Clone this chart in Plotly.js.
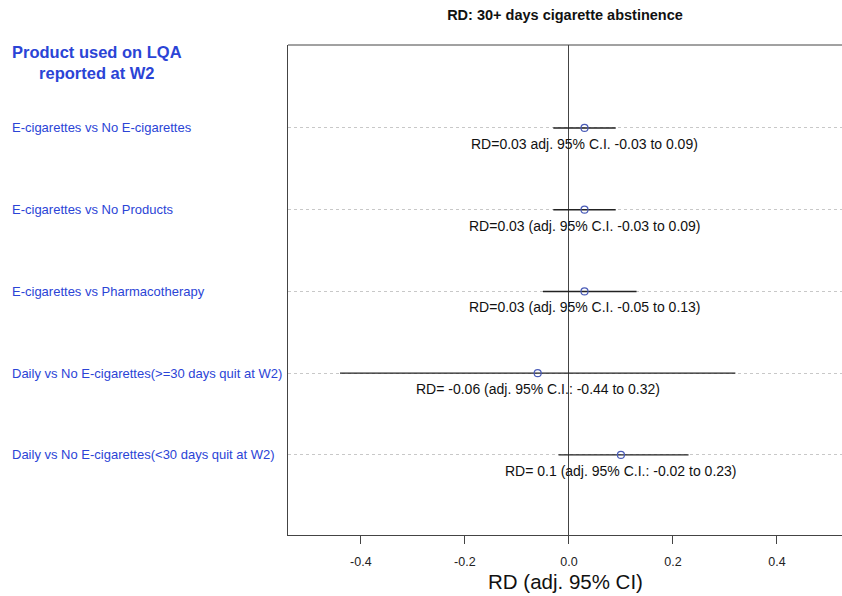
<!DOCTYPE html>
<html>
<head>
<meta charset="utf-8">
<script src="https://cdn.plot.ly/plotly-3.0.1.min.js"></script>
<style>html,body{margin:0;padding:0;background:#fff;overflow:hidden}#chart{width:842px;height:596px}</style>
</head>
<body>
<div id="chart"></div>
<script>
// Data
var labels = [
  "E-cigarettes vs No E-cigarettes",
  "E-cigarettes vs No Products",
  "E-cigarettes vs Pharmacotherapy",
  "Daily vs No E-cigarettes(>=30 days quit at W2)",
  "Daily vs No E-cigarettes(<30 days quit at W2)"
];
var rowPos = [5, 4, 3, 2, 1];
var estimates = [0.03, 0.03, 0.03, -0.06, 0.1];
var lowerCI = [-0.03, -0.03, -0.05, -0.44, -0.02];
var upperCI = [0.09, 0.09, 0.13, 0.32, 0.23];
var valueTexts = [
  "RD=0.03 adj. 95% C.I. -0.03 to 0.09)",
  "RD=0.03 (adj. 95% C.I. -0.03 to 0.09)",
  "RD=0.03 (adj. 95% C.I. -0.05 to 0.13)",
  "RD= -0.06 (adj. 95% C.I.: -0.44 to 0.32)",
  "RD= 0.1 (adj. 95% C.I.: -0.02 to 0.23)"
];
var xTicks = [-0.4, -0.2, 0.0, 0.2, 0.4];
var xTickText = ["-0.4", "-0.2", "0.0", "0.2", "0.4"];

var FONT = "Liberation Sans, Arial, Helvetica, sans-serif";
var BLUE = "#2b44d6";

var plus = estimates.map(function(e, i){ return upperCI[i] - e; });
var minus = estimates.map(function(e, i){ return e - lowerCI[i]; });

var trace = {
  type: "scatter",
  mode: "markers",
  x: estimates,
  y: rowPos,
  marker: {symbol: "circle-open", size: 7, color: "#4a5cb8", line: {width: 1.2, color: "#4a5cb8"}},
  error_x: {type: "data", symmetric: false, array: plus, arrayminus: minus, width: 0, thickness: 1.4, color: "#222"},
  hoverinfo: "none",
  showlegend: false
};

var annotations = [];
labels.forEach(function(l, i){
  annotations.push({
    text: l, xref: "paper", yref: "y", x: -0.502, y: rowPos[i],
    xanchor: "left", yanchor: "middle", showarrow: false,
    font: {family: FONT, size: 13, color: BLUE}
  });
  annotations.push({
    text: valueTexts[i], xref: "x", yref: "y", x: estimates[i], y: rowPos[i],
    xanchor: "center", yanchor: "middle", yshift: -16, showarrow: false,
    font: {family: FONT, size: 14, color: "#111"}
  });
});
annotations.push({
  text: "<b>Product used on LQA<br>reported at W2</b>", xref: "paper", yref: "paper",
  x: -0.345, y: 0.965, xanchor: "center", yanchor: "middle", showarrow: false,
  font: {family: FONT, size: 16.5, color: BLUE}, align: "center"
});
annotations.push({
  text: "RD (adj. 95% CI)", xref: "paper", yref: "paper",
  x: 0.5, y: -0.094, xanchor: "center", yanchor: "middle", showarrow: false,
  font: {family: FONT, size: 20.5, color: "#111"}
});

var layout = {
  width: 842, height: 596,
  margin: {l: 288, r: 0, t: 45, b: 61},
  paper_bgcolor: "#fff", plot_bgcolor: "#fff",
  title: {text: "<b>RD: 30+ days cigarette abstinence</b>", font: {family: FONT, size: 14.5, color: "#111"},
          xref: "paper", x: 0.5, xanchor: "center", yref: "container", y: 0.975, yanchor: "middle"},
  xaxis: {
    range: [-0.54, 0.525], tickvals: xTicks, ticktext: xTickText,
    showgrid: false, zeroline: true, zerolinecolor: "#444", zerolinewidth: 1,
    showline: true, linecolor: "#444", linewidth: 1,
    ticks: "outside", ticklen: 8, tickcolor: "#444", tickwidth: 1, ticklabelstandoff: 7,
    tickfont: {family: FONT, size: 12.5, color: "#222"}, fixedrange: true
  },
  yaxis: {
    range: [0.02, 6.015], tickvals: rowPos, showticklabels: false,
    showgrid: true, gridcolor: "#c8c8c8", griddash: "dot", gridwidth: 1,
    zeroline: false, showline: true, linecolor: "#444", linewidth: 1, ticks: "", fixedrange: true
  },
  shapes: [{type: "line", xref: "paper", yref: "paper", x0: 0, x1: 1, y0: 1, y1: 1, line: {color: "#444", width: 1}}],
  annotations: annotations
};

Plotly.newPlot("chart", [trace], layout, {displayModeBar: false, staticPlot: true});
</script>
</body>
</html>
